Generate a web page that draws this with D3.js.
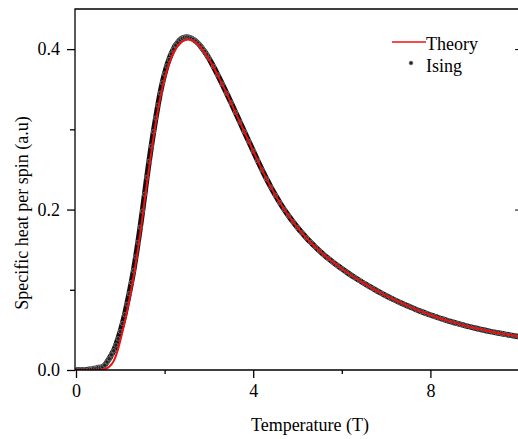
<!DOCTYPE html>
<html>
<head>
<meta charset="utf-8">
<script src="https://cdn.jsdelivr.net/npm/d3@7"></script>
<style>
  body { margin: 0; background: #fff; }
  text { font-family: "Liberation Serif", "Times New Roman", serif; fill: #000; }
</style>
</head>
<body>
<div id="chart"></div>
<script>
// Theory curve (red line)
const theoryT = [0, 0.5, 0.65, 0.75, 0.85, 0.95, 1.05, 1.15, 1.25, 1.35, 1.45, 1.55, 1.65, 1.75, 1.85,
  1.95, 2.05, 2.15, 2.25, 2.35, 2.45, 2.55, 2.65, 2.75, 2.85, 3.0, 3.25, 3.5, 3.75, 4.0,
  4.25, 4.5, 4.75, 5.0, 5.5, 6.0, 6.5, 7.0, 7.5, 8.0, 8.5, 9.0, 9.5, 10.0];
const theoryC = [0, 0, 0.001, 0.004, 0.011, 0.026, 0.048, 0.073, 0.101, 0.133, 0.170, 0.211, 0.252, 0.290, 0.324,
  0.352, 0.373, 0.389, 0.400, 0.407, 0.411, 0.412, 0.4105, 0.406, 0.3995, 0.3875, 0.362, 0.333, 0.303, 0.273,
  0.2438, 0.2179, 0.1961, 0.1776, 0.1483, 0.1262, 0.1081, 0.0926, 0.0796, 0.0686, 0.0597, 0.0524, 0.0464, 0.0415];

// Ising simulation points (black markers)
const isingT = [0.0, 0.1, 0.2, 0.3, 0.35, 0.4, 0.45, 0.5, 0.55, 0.6, 0.65, 0.7, 0.75, 0.8, 0.85, 0.9, 0.95,
  1.0, 1.05, 1.1, 1.15, 1.2, 1.25, 1.3, 1.35, 1.4, 1.45, 1.5, 1.55, 1.6, 1.65, 1.7, 1.75, 1.8, 1.85,
  1.9, 1.95, 2.0, 2.05, 2.1, 2.15, 2.2, 2.25, 2.3, 2.35, 2.4, 2.45, 2.5, 2.55, 2.6, 2.65, 2.7, 2.75,
  2.8, 2.85, 2.9, 2.95, 3.0, 3.1, 3.2, 3.3, 3.4, 3.5, 3.6, 3.7, 3.8, 3.9, 4.0, 4.1, 4.2, 4.3, 4.4,
  4.5, 4.6, 4.7, 4.8, 4.9, 5.0, 5.1, 5.2, 5.3, 5.4, 5.5, 5.6, 5.7, 5.8, 5.9, 6.0, 6.1, 6.2, 6.3, 6.4,
  6.5, 6.6, 6.7, 6.8, 6.9, 7.0, 7.1, 7.2, 7.3, 7.4, 7.5, 7.6, 7.7, 7.8, 7.9, 8.0, 8.1, 8.2, 8.3, 8.4,
  8.5, 8.6, 8.7, 8.8, 8.9, 9.0, 9.1, 9.2, 9.3, 9.4, 9.5, 9.6, 9.7, 9.8, 9.9, 10.0];
const isingC = [0.0, 0.0, 0.0, 0.001, 0.001, 0.002, 0.002, 0.003, 0.003, 0.004, 0.006, 0.010, 0.014, 0.019, 0.024, 0.031, 0.039,
  0.048, 0.058, 0.069, 0.082, 0.095, 0.109, 0.124, 0.141, 0.159, 0.178, 0.198, 0.219, 0.240, 0.260, 0.279, 0.297, 0.314, 0.330,
  0.345, 0.358, 0.369, 0.379, 0.387, 0.394, 0.400, 0.405, 0.4085, 0.4115, 0.4135, 0.4145, 0.4150, 0.4146, 0.4135, 0.4120, 0.4100, 0.4075,
  0.4045, 0.4010, 0.3972, 0.3930, 0.3885, 0.3785, 0.3678, 0.3566, 0.3450, 0.3332, 0.3212, 0.3091, 0.2970, 0.2850, 0.2730, 0.2610, 0.2494, 0.2383, 0.2278,
  0.2179, 0.2087, 0.2001, 0.1921, 0.1846, 0.1776, 0.1710, 0.1648, 0.1590, 0.1535, 0.1483, 0.1434, 0.1388, 0.1344, 0.1302, 0.1262, 0.1223, 0.1186, 0.1150, 0.1115,
  0.1081, 0.1048, 0.1016, 0.0985, 0.0955, 0.0926, 0.0898, 0.0871, 0.0845, 0.0820, 0.0796, 0.0772, 0.0749, 0.0727, 0.0706, 0.0686, 0.0667, 0.0648, 0.0630, 0.0613,
  0.0597, 0.0581, 0.0566, 0.0551, 0.0537, 0.0524, 0.0511, 0.0498, 0.0486, 0.0475, 0.0464, 0.0454, 0.0444, 0.0434, 0.0424, 0.0415];

const xMajorTicks = [0, 4, 8];
const xMinorTicks = [2, 6, 10];
const yMajorTicks = [0, 0.2, 0.4];
const yMinorTicks = [0.1, 0.3];
const seriesNames = ['Theory', 'Ising'];

const width = 518, height = 439;
const plotLeft = 75, plotTop = 9, plotBottom = 370;

const svg = d3.select('#chart')
  .append('svg')
  .attr('width', width)
  .attr('height', height);

const x = d3.scaleLinear().domain([0, 10]).range([76, 519]);
const y = d3.scaleLinear().domain([0, 0.45]).range([plotBottom, plotTop]);

svg.append('clipPath').attr('id', 'clip')
  .append('rect')
  .attr('x', plotLeft).attr('y', plotTop)
  .attr('width', width - plotLeft).attr('height', plotBottom - plotTop);

// data
const plot = svg.append('g').attr('clip-path', 'url(#clip)');

const ising = isingT.map((t, i) => ({ t, c: isingC[i] }));
const theory = theoryT.map((t, i) => ({ t, c: theoryC[i] }));

// dense Ising markers merge into a thick band
plot.append('path')
  .datum(ising)
  .attr('fill', 'none')
  .attr('stroke', '#111')
  .attr('stroke-width', 5.5)
  .attr('stroke-linejoin', 'round')
  .attr('d', d3.line().curve(d3.curveMonotoneX).x(d => x(d.t)).y(d => y(d.c)));

plot.append('g')
  .selectAll('circle')
  .data(ising)
  .enter()
  .append('circle')
  .attr('cx', d => x(d.t))
  .attr('cy', d => y(d.c))
  .attr('r', 2.2)
  .attr('fill', '#222')
  .attr('stroke', '#999')
  .attr('stroke-width', 0.6);

plot.append('path')
  .datum(theory)
  .attr('fill', 'none')
  .attr('stroke', '#ee1111')
  .attr('stroke-width', 2)
  .attr('d', d3.line().curve(d3.curveMonotoneX).x(d => x(d.t)).y(d => y(d.c)));

// frame
svg.append('path')
  .attr('d', `M${width},${plotTop}H${plotLeft}V${plotBottom}H${width}`)
  .attr('fill', 'none')
  .attr('stroke', '#000')
  .attr('stroke-width', 1.3);

// x axis
const xAxis = svg.append('g')
  .attr('transform', `translate(0,${plotBottom})`)
  .call(d3.axisBottom(x).tickValues(xMajorTicks).tickSize(8).tickPadding(6).tickFormat(d3.format('d')));
xAxis.select('.domain').remove();
xAxis.selectAll('line').attr('stroke-width', 1.3);
xAxis.selectAll('text').style('font-size', '18px').attr('fill', '#000');

const xMinor = svg.append('g')
  .attr('transform', `translate(0,${plotBottom})`)
  .call(d3.axisBottom(x).tickValues(xMinorTicks).tickSize(4).tickFormat(''));
xMinor.select('.domain').remove();
xMinor.selectAll('line').attr('stroke-width', 1.3);

// y axis
const yAxis = svg.append('g')
  .attr('transform', `translate(${plotLeft},0)`)
  .call(d3.axisLeft(y).tickValues(yMajorTicks).tickSize(8).tickPadding(7).tickFormat(d3.format('.1f')));
yAxis.select('.domain').remove();
yAxis.selectAll('line').attr('stroke-width', 1.3);
yAxis.selectAll('text').style('font-size', '18px').attr('fill', '#000');

const yMinor = svg.append('g')
  .attr('transform', `translate(${plotLeft},0)`)
  .call(d3.axisLeft(y).tickValues(yMinorTicks).tickSize(5).tickFormat(''));
yMinor.select('.domain').remove();
yMinor.selectAll('line').attr('stroke-width', 1.3);

// right-hand ticks peeking in at the edge
const yRight = svg.append('g')
  .attr('transform', `translate(515,0)`)
  .call(d3.axisRight(y).tickValues(yMajorTicks.slice(1)).tickSize(3).tickFormat(''));
yRight.select('.domain').remove();

// axis titles
svg.append('text')
  .attr('x', 310)
  .attr('y', 431)
  .attr('text-anchor', 'middle')
  .style('font-size', '18px')
  .text('Temperature (T)');

svg.append('text')
  .attr('transform', 'translate(28,213) rotate(-90)')
  .attr('text-anchor', 'middle')
  .style('font-size', '18px')
  .text('Specific heat per spin (a.u)');

// legend
const legend = svg.append('g').attr('transform', 'translate(392,42)');
legend.append('line')
  .attr('x1', 0).attr('x2', 34)
  .attr('y1', 0).attr('y2', 0)
  .attr('stroke', '#ee1111')
  .attr('stroke-width', 1.5);
legend.append('text')
  .attr('x', 34).attr('y', 8)
  .style('font-size', '18px')
  .text(seriesNames[0]);
legend.append('circle')
  .attr('cx', 19).attr('cy', 21)
  .attr('r', 2)
  .attr('fill', '#222')
  .attr('stroke', '#999')
  .attr('stroke-width', 0.6);
legend.append('text')
  .attr('x', 34).attr('y', 30)
  .style('font-size', '18px')
  .text(seriesNames[1]);
</script>
</body>
</html>
